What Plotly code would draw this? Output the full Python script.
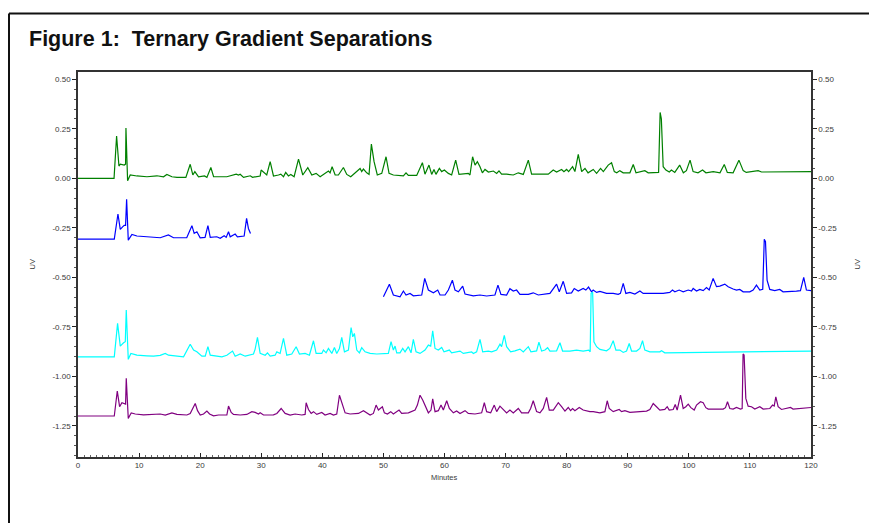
import plotly.graph_objects as go

# ---- data (minutes, UV) ----
green_pts = [(0,0),(5.9,0),(6.32,0.214),(6.7,0.062),(6.92,0.072),(7.57,0.067),(7.79,0.072),(7.85,0.254),(8.12,-0.012),(8.55,0.017),(9.64,0.012),(11.28,0.008),(12.92,0.013),(14.0,0.008),(14.55,0.020),(15.37,0.008),(16.2,0.005),(17.66,0.005),(18.37,0.071),(18.8,0.017),(19.13,0.034),(19.73,0.008),(20.71,0.012),(21.1,0.005),(21.75,0.055),(22.2,0.008),(24.37,0.008),(25.9,0.021),(26.28,0.017),(26.55,0.021),(27.1,0.005),(28.2,0.013),(28.57,0.005),(29.82,0.012),(29.98,0.042),(30.9,0.017),(31.46,0.084),(32.0,0.012),(32.82,0.017),(33.2,0.021),(33.64,0.008),(34.0,0.030),(34.45,0.012),(34.84,0.020),(35.38,0.008),(36.1,0.097),(36.8,0.017),(37.62,0.054),(38.28,0.017),(38.98,0.025),(39.64,0.008),(40.73,0.028),(41.0,0.037),(41.27,0.028),(41.6,0.059),(42.1,0.017),(42.63,0.017),(43.45,0.055),(44.0,0.020),(44.65,0.008),(45.64,0.034),(46.18,0.050),(46.45,0.034),(46.73,0.047),(47.27,0.028),(47.65,0.020),(48.03,0.173),(48.47,0.084),(49.0,0.017),(49.73,0.025),(50.43,0.109),(50.92,0.025),(51.63,0.017),(53.27,0.012),(53.7,0.028),(54.08,0.015),(55.45,0.015),(56.38,0.079),(56.8,0.021),(57.46,0.067),(57.9,0.020),(58.28,0.045),(58.6,0.020),(59.16,0.050),(59.54,0.034),(59.98,0.042),(60.63,0.025),(61.17,0.017),(61.83,0.092),(62.37,0.020),(63.9,0.025),(64.17,0.017),(64.6,0.109),(65.0,0.067),(65.38,0.084),(65.81,0.059),(66.2,0.028),(66.63,0.045),(67.18,0.032),(68.0,0.037),(68.54,0.025),(68.92,0.038),(69.35,0.021),(70.17,0.021),(71.26,0.017),(72.08,0.028),(72.9,0.020),(73.72,0.092),(74.26,0.021),(75.63,0.020),(76.99,0.021),(77.8,0.042),(78.35,0.032),(79.17,0.045),(79.55,0.034),(79.99,0.045),(80.32,0.034),(80.97,0.059),(81.35,0.034),(81.9,0.121),(82.2,0.062),(82.45,0.034),(83.0,0.050),(83.5,0.028),(84.35,0.045),(84.9,0.025),(85.55,0.050),(86.0,0.034),(86.8,0.067),(87.35,0.079),(87.8,0.034),(88.2,0.028),(88.7,0.039),(89.25,0.028),(90.35,0.028),(90.9,0.070),(91.35,0.028),(92.25,0.034),(92.8,0.039),(93.35,0.028),(94.7,0.028),(95.05,0.030),(95.3,0.333),(95.5,0.300),(95.8,0.059),(96.25,0.042),(96.8,0.032),(97.15,0.042),(97.7,0.030),(98.5,0.067),(99.1,0.028),(99.6,0.039),(100.2,0.092),(100.7,0.034),(101.5,0.028),(102.25,0.042),(102.8,0.028),(104.0,0.034),(105.1,0.028),(105.8,0.070),(106.3,0.030),(107.25,0.028),(108.2,0.092),(108.9,0.039),(109.4,0.030),(110.5,0.034),(111.35,0.039),(111.9,0.032),(114.9,0.034),(120,0.034)]

blue1_pts = [(0,-0.307),(5.94,-0.307),(6.54,-0.180),(6.92,-0.258),(7.30,-0.245),(7.57,-0.237),(7.79,-0.237),(7.96,-0.105),(8.23,-0.312),(8.83,-0.283),(9.64,-0.291),(11.28,-0.295),(13.46,-0.300),(14.8,-0.286),(15.64,-0.300),(17.8,-0.300),(18.65,-0.239),(19.02,-0.278),(19.46,-0.270),(20.0,-0.300),(20.8,-0.298),(21.27,-0.239),(21.65,-0.298),(22.72,-0.295),(23.28,-0.303),(23.93,-0.290),(24.26,-0.298),(24.64,-0.270),(24.92,-0.295),(25.73,-0.281),(26.1,-0.295),(27.2,-0.291),(27.6,-0.202),(27.9,-0.253),(28.24,-0.278)]

blue2_pts = [(50.0,-0.598),(50.98,-0.535),(51.63,-0.589),(52.72,-0.598),(53.27,-0.569),(53.7,-0.589),(54.36,-0.581),(54.9,-0.593),(56.27,-0.589),(56.76,-0.505),(57.36,-0.564),(58.18,-0.578),(58.89,-0.564),(59.27,-0.589),(60.09,-0.589),(60.63,-0.564),(61.29,-0.514),(61.72,-0.564),(62.27,-0.573),(62.98,-0.544),(63.36,-0.584),(64.72,-0.593),(65.81,-0.589),(66.9,-0.594),(68.26,-0.589),(68.75,-0.539),(69.24,-0.586),(70.17,-0.589),(70.71,-0.557),(71.26,-0.569),(71.8,-0.564),(72.35,-0.586),(73.72,-0.586),(74.53,-0.578),(75.35,-0.589),(77.26,-0.581),(78.35,-0.534),(78.79,-0.573),(79.44,-0.520),(79.99,-0.581),(80.8,-0.578),(81.24,-0.556),(81.9,-0.569),(82.7,-0.556),(83.14,-0.564),(83.58,-0.549),(84.07,-0.573),(84.34,-0.564),(84.9,-0.576),(85.44,-0.571),(86.53,-0.581),(87.62,-0.581),(88.44,-0.586),(88.8,-0.581),(89.26,-0.530),(89.69,-0.581),(90.35,-0.576),(91.17,-0.584),(91.99,-0.569),(92.53,-0.581),(93.62,-0.581),(95.8,-0.581),(96.88,-0.576),(97.32,-0.564),(97.71,-0.573),(98.42,-0.564),(99.08,-0.573),(99.9,-0.564),(100.44,-0.569),(100.71,-0.556),(101.26,-0.569),(101.8,-0.561),(102.35,-0.567),(102.89,-0.552),(103.33,-0.564),(103.98,-0.505),(104.53,-0.547),(105.07,-0.544),(105.89,-0.534),(106.44,-0.547),(107.25,-0.559),(107.8,-0.564),(108.34,-0.561),(108.89,-0.573),(109.98,-0.573),(110.53,-0.564),(111.07,-0.539),(111.62,-0.564),(112.1,-0.560),(112.35,-0.308),(112.55,-0.320),(112.81,-0.514),(113.25,-0.561),(114.07,-0.567),(114.88,-0.561),(115.43,-0.573),(117.61,-0.569),(118.27,-0.567),(118.81,-0.500),(119.25,-0.564),(120,-0.567)]

cyan_pts = [(0,-0.901),(5.94,-0.901),(6.48,-0.732),(6.92,-0.847),(7.46,-0.830),(7.74,-0.825),(7.9,-0.665),(8.23,-0.914),(8.66,-0.884),(9.64,-0.893),(11.28,-0.896),(12.37,-0.898),(13.46,-0.894),(14.28,-0.884),(14.82,-0.893),(16.19,-0.898),(17.28,-0.901),(18.37,-0.838),(18.92,-0.867),(19.46,-0.876),(20.28,-0.898),(20.83,-0.898),(21.27,-0.850),(21.65,-0.893),(22.74,-0.898),(23.56,-0.901),(24.37,-0.893),(25.3,-0.872),(25.73,-0.898),(26.55,-0.887),(27.37,-0.898),(28.73,-0.887),(29.0,-0.862),(29.38,-0.803),(29.82,-0.884),(30.64,-0.893),(31.02,-0.881),(31.46,-0.898),(32.27,-0.893),(32.55,-0.876),(33.09,-0.884),(33.64,-0.808),(34.18,-0.893),(35.0,-0.887),(35.71,-0.850),(36.25,-0.887),(37.18,-0.884),(37.89,-0.893),(38.55,-0.820),(38.98,-0.884),(39.91,-0.884),(40.18,-0.867),(40.62,-0.881),(41.0,-0.859),(41.55,-0.884),(41.98,-0.854),(42.36,-0.884),(42.8,-0.859),(43.18,-0.803),(43.62,-0.876),(44.27,-0.867),(44.71,-0.754),(44.98,-0.800),(45.25,-0.783),(45.64,-0.867),(46.07,-0.881),(46.45,-0.855),(47.0,-0.876),(47.82,-0.884),(48.91,-0.887),(50.81,-0.884),(51.25,-0.825),(51.63,-0.867),(51.91,-0.847),(52.18,-0.881),(52.72,-0.881),(53.16,-0.859),(53.54,-0.876),(54.09,-0.850),(54.52,-0.881),(54.9,-0.813),(55.34,-0.876),(55.99,-0.884),(56.81,-0.867),(57.36,-0.842),(57.74,-0.847),(58.07,-0.770),(58.45,-0.859),(58.99,-0.867),(59.54,-0.854),(59.92,-0.876),(60.79,-0.867),(61.17,-0.881),(62.54,-0.872),(63.08,-0.884),(64.44,-0.876),(64.72,-0.884),(65.26,-0.876),(65.81,-0.813),(66.25,-0.876),(67.17,-0.872),(67.72,-0.876),(68.54,-0.867),(69.08,-0.837),(69.35,-0.850),(69.79,-0.793),(70.17,-0.850),(70.83,-0.876),(71.53,-0.871),(72.35,-0.862),(72.9,-0.876),(73.72,-0.850),(74.15,-0.876),(75.08,-0.871),(75.46,-0.827),(75.9,-0.872),(76.44,-0.867),(76.88,-0.855),(77.26,-0.872),(78.35,-0.871),(78.9,-0.830),(79.33,-0.872),(80.53,-0.872),(81.62,-0.867),(82.7,-0.872),(83.63,-0.867),(83.85,-0.876),(84.0,-0.580),(84.25,-0.575),(84.46,-0.825),(84.9,-0.850),(85.44,-0.864),(86.53,-0.871),(87.07,-0.859),(87.62,-0.820),(88.06,-0.867),(88.71,-0.867),(89.26,-0.879),(89.8,-0.872),(90.24,-0.834),(90.62,-0.872),(91.44,-0.872),(91.99,-0.859),(92.42,-0.820),(92.8,-0.867),(93.62,-0.876),(95.26,-0.876),(95.53,-0.870),(96.07,-0.881),(120,-0.872)]

purple_pts = [(0,-1.200),(5.94,-1.200),(6.43,-1.074),(6.81,-1.153),(7.19,-1.133),(7.63,-1.136),(7.79,-1.140),(7.9,-1.010),(8.23,-1.212),(8.72,-1.184),(9.37,-1.190),(10.73,-1.194),(11.82,-1.192),(13.46,-1.190),(14.28,-1.195),(15.37,-1.184),(16.19,-1.192),(17.82,-1.195),(18.37,-1.187),(19.19,-1.137),(19.57,-1.173),(20.01,-1.195),(20.55,-1.190),(21.1,-1.175),(21.54,-1.190),(22.19,-1.199),(23.01,-1.195),(24.37,-1.195),(24.64,-1.150),(25.08,-1.182),(25.46,-1.192),(26.55,-1.195),(27.64,-1.192),(28.46,-1.178),(29.0,-1.182),(29.55,-1.190),(29.82,-1.184),(30.37,-1.195),(32.0,-1.194),(32.55,-1.187),(33.26,-1.162),(33.91,-1.187),(34.73,-1.195),(35.54,-1.190),(36.63,-1.195),(37.18,-1.192),(37.35,-1.133),(37.73,-1.167),(38.17,-1.187),(38.55,-1.178),(39.09,-1.192),(39.91,-1.182),(40.45,-1.195),(41.27,-1.187),(41.82,-1.195),(42.36,-1.190),(42.8,-1.095),(43.35,-1.145),(43.73,-1.184),(44.54,-1.190),(45.91,-1.187),(46.73,-1.173),(47.27,-1.184),(47.82,-1.195),(48.36,-1.187),(48.8,-1.145),(49.18,-1.170),(49.45,-1.162),(49.83,-1.153),(50.16,-1.184),(50.65,-1.190),(51.2,-1.178),(51.63,-1.190),(52.56,-1.170),(52.99,-1.187),(54.09,-1.184),(55.18,-1.170),(55.56,-1.145),(55.99,-1.095),(56.43,-1.119),(56.97,-1.162),(57.36,-1.184),(57.79,-1.170),(58.07,-1.113),(58.45,-1.178),(58.99,-1.173),(59.43,-1.145),(59.81,-1.170),(60.36,-1.123),(60.79,-1.162),(61.45,-1.184),(61.99,-1.175),(62.54,-1.187),(63.36,-1.173),(63.9,-1.187),(64.99,-1.190),(66.08,-1.184),(66.52,-1.133),(66.9,-1.178),(67.56,-1.184),(68.15,-1.145),(68.54,-1.178),(69.08,-1.150),(69.63,-1.170),(70.17,-1.184),(70.71,-1.170),(71.26,-1.184),(72.08,-1.162),(72.62,-1.184),(73.72,-1.184),(74.1,-1.162),(74.53,-1.123),(75.08,-1.178),(75.63,-1.184),(76.17,-1.162),(76.72,-1.106),(77.15,-1.170),(77.81,-1.170),(78.63,-1.133),(79.17,-1.153),(79.72,-1.175),(80.26,-1.157),(80.64,-1.173),(80.97,-1.162),(81.35,-1.173),(82.06,-1.157),(82.7,-1.170),(83.8,-1.178),(84.35,-1.178),(85.44,-1.184),(86.26,-1.178),(86.64,-1.123),(86.97,-1.162),(87.62,-1.178),(88.6,-1.167),(88.99,-1.178),(89.53,-1.173),(90.35,-1.182),(91.71,-1.178),(93.08,-1.175),(93.62,-1.167),(94.17,-1.137),(94.71,-1.153),(95.26,-1.170),(96.07,-1.167),(96.46,-1.153),(96.79,-1.170),(97.44,-1.167),(97.77,-1.142),(98.09,-1.170),(98.64,-1.095),(99.08,-1.162),(99.51,-1.153),(99.9,-1.140),(100.33,-1.158),(100.88,-1.170),(101.26,-1.145),(101.91,-1.128),(102.35,-1.133),(102.78,-1.158),(103.17,-1.165),(103.98,-1.165),(105.62,-1.165),(106.0,-1.158),(106.33,-1.128),(106.71,-1.162),(107.25,-1.165),(107.8,-1.157),(108.45,-1.165),(108.73,-1.162),(108.88,-0.887),(109.05,-0.892),(109.33,-1.111),(109.71,-1.150),(110.26,-1.153),(110.8,-1.165),(111.62,-1.153),(112.17,-1.165),(113.26,-1.162),(113.7,-1.145),(113.97,-1.150),(114.24,-1.103),(114.62,-1.153),(115.17,-1.167),(115.98,-1.162),(116.64,-1.157),(117.07,-1.165),(118.16,-1.162),(120,-1.157)]

series = [
    ("green", green_pts),
    ("blue", blue1_pts),
    ("blue", blue2_pts),
    ("cyan", cyan_pts),
    ("purple", purple_pts),
]

y_ticks = [0.5, 0.25, 0.0, -0.25, -0.5, -0.75, -1.0, -1.25]
y_tick_labels = ["0.50", "0.25", "0.00", "-0.25", "-0.50", "-0.75", "-1.00", "-1.25"]
x_ticks = [0, 10, 20, 30, 40, 50, 60, 70, 80, 90, 100, 110, 120]
x_range = [0, 120]
y_range = [-1.407, 0.537]

title_text = "Figure 1:\u00a0 Ternary Gradient Separations"
x_title = "Minutes"
y_title = "UV"

FONT = "Arial, 'Liberation Sans', Helvetica, sans-serif"
TICK_COLOR = "#3a3a3a"

fig = go.Figure()
for color, pts in series:
    fig.add_trace(go.Scatter(
        x=[p[0] for p in pts], y=[p[1] for p in pts],
        mode="lines", line=dict(color=color, width=1.2),
        showlegend=False, hoverinfo="skip",
    ))
# empty trace bound to the right-hand axis so it is drawn
fig.add_trace(go.Scatter(x=[], y=[], yaxis="y2", showlegend=False))

# figure covers the whole window (page body offset 8px); the frame's right and
# bottom sides lie outside the visible area
W, H = 877, 523
ml, mr, mt, mb = 70, 74, 64, 74
pw, ph = W - ml - mr, H - mt - mb

def px_x(p):
    return (p - ml) / pw

def px_y(p):
    return (H - mb - p) / ph

yaxis_common = dict(
    range=y_range, tickvals=y_ticks, ticktext=y_tick_labels,
    ticks="outside", ticklen=4, tickwidth=1, tickcolor="#222",
    minor=dict(dtick=0.05, ticks="outside", ticklen=2, tickcolor="#555"),
    showgrid=False, zeroline=False, showline=True, linecolor="#333", linewidth=1.5,
    tickfont=dict(family=FONT, size=8, color=TICK_COLOR),
)

fig.update_layout(
    width=W, height=H,
    margin=dict(l=ml, r=mr, t=mt, b=mb),
    paper_bgcolor="white", plot_bgcolor="white",
    title=dict(text="<b>" + title_text + "</b>", x=21 / W, xanchor="left", xref="container",
               y=1 - 30 / H, yanchor="middle", yref="container",
               font=dict(family=FONT, size=21.5, color="#111")),
    xaxis=dict(
        range=x_range, tickvals=x_ticks, ticks="inside", ticklen=4, tickcolor="#222",
        minor=dict(dtick=1, ticks="inside", ticklen=2, tickcolor="#666"),
        showgrid=False, zeroline=False, showline=True, linecolor="#333", linewidth=1.5,
        mirror=True, tickfont=dict(family=FONT, size=8, color=TICK_COLOR),
    ),
    yaxis=dict(side="left", **yaxis_common),
    yaxis2=dict(side="right", overlaying="y", **yaxis_common),
    shapes=[
        dict(type="line", xref="paper", yref="paper",
             x0=px_x(1), x1=px_x(W), y0=px_y(5.5), y1=px_y(5.5),
             line=dict(color="#111", width=2), layer="above"),
        dict(type="line", xref="paper", yref="paper",
             x0=px_x(1), x1=px_x(1), y0=px_y(5.5), y1=px_y(H),
             line=dict(color="#111", width=2), layer="above"),
    ],
    annotations=[
        dict(text=x_title, xref="paper", yref="paper", x=0.5, y=px_y(470),
             showarrow=False, xanchor="center", yanchor="middle",
             font=dict(family=FONT, size=7.5, color=TICK_COLOR)),
        dict(text=y_title, xref="paper", yref="paper", x=px_x(24), y=0.5,
             showarrow=False, textangle=-90, xanchor="center", yanchor="middle",
             font=dict(family=FONT, size=7.5, color=TICK_COLOR)),
        dict(text=y_title, xref="paper", yref="paper", x=px_x(849), y=0.5,
             showarrow=False, textangle=-90, xanchor="center", yanchor="middle",
             font=dict(family=FONT, size=7.5, color=TICK_COLOR)),
    ],
)

fig.write_html("out.html")
